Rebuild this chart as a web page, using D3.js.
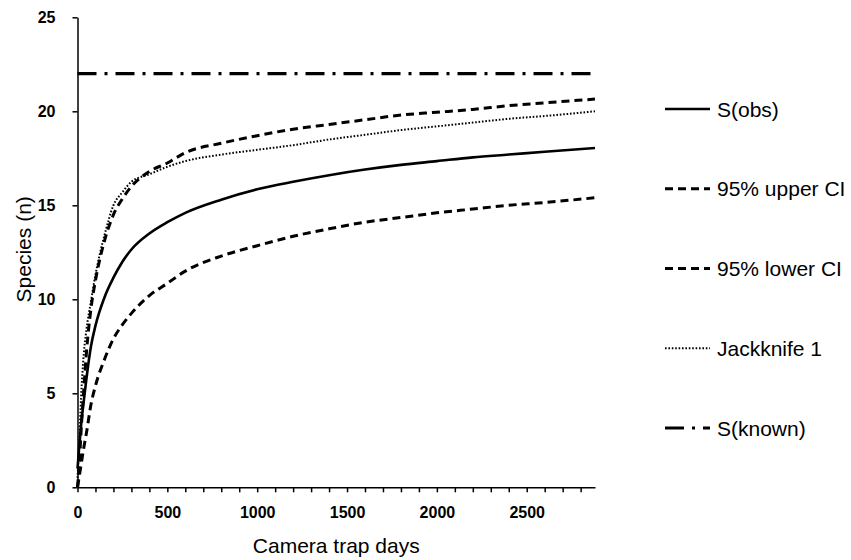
<!DOCTYPE html>
<html>
<head>
<meta charset="utf-8">
<script src="https://cdn.jsdelivr.net/npm/d3@7"></script>
<style>
  html, body { margin: 0; padding: 0; background: #fff; }
  svg { display: block; }
  text { font-family: "Liberation Sans", Arial, sans-serif; fill: #000; }
</style>
</head>
<body>
<div id="chart"></div>
<script>
// ---- data ----
const days = [0, 10, 20, 35, 50, 75, 100, 150, 200, 250, 300, 400, 500, 600, 800, 1000, 1200, 1400, 1600, 1800, 2000, 2200, 2400, 2600, 2880];
const sObs = [1.0, 2.2, 3.3, 4.6, 5.8, 7.5, 8.6, 10.1, 11.15, 12.0, 12.65, 13.5, 14.1, 14.6, 15.3, 15.85, 16.25, 16.6, 16.9, 17.15, 17.35, 17.55, 17.7, 17.85, 18.05];
const upperCI = [0, 1.2, 3.0, 5.2, 7.2, 9.5, 11.0, 13.1, 14.5, 15.35, 16.0, 16.8, 17.25, 17.8, 18.3, 18.7, 19.05, 19.3, 19.55, 19.8, 19.95, 20.1, 20.3, 20.45, 20.65];
const lowerCI = [0, 0.6, 1.2, 2.1, 2.9, 4.4, 5.4, 6.8, 7.9, 8.65, 9.25, 10.2, 10.85, 11.5, 12.3, 12.85, 13.35, 13.75, 14.1, 14.35, 14.6, 14.8, 15.0, 15.15, 15.4];
const jackknife1 = [0.5, 2.4, 4.8, 7.1, 8.4, 9.9, 11.3, 13.4, 15.0, 15.7, 16.25, 16.65, 17.05, 17.35, 17.7, 17.95, 18.2, 18.5, 18.75, 19.0, 19.2, 19.4, 19.6, 19.75, 20.0];
const sKnown = 22;
const seriesNames = ["S(obs)", "95% upper CI", "95% lower CI", "Jackknife 1", "S(known)"];
const xTicks = d3.range(0, 2801, 100);
const xLabelTicks = [0, 500, 1000, 1500, 2000, 2500];
const yTicks = [0, 5, 10, 15, 20, 25];
const xDomainMax = 2880;

// ---- layout ----
const W = 851, H = 560;
const mLeft = 77.5, mRight = 595, mTop = 17.3, mBottom = 487.3;

const svg = d3.select("#chart").append("svg").attr("width", W).attr("height", H);

const x = d3.scaleLinear().domain([0, xDomainMax]).range([mLeft, mRight]);
const y = d3.scaleLinear().domain([0, 25]).range([mBottom, mTop]);

const styles = [
  { dash: null, width: 2.6 },
  { dash: "8,5", width: 3 },
  { dash: "8,5", width: 3 },
  { dash: "1.6,1.8", width: 2 },
  { dash: "19,8,3,8", width: 3.2 }
];

const line = d3.line().x(d => x(d[0])).y(d => y(d[1])).curve(d3.curveMonotoneX);
const series = [sObs, upperCI, lowerCI, jackknife1];

const plot = svg.append("g");
series.forEach((vals, i) => {
  plot.append("path")
    .datum(days.map((d, j) => [d, vals[j]]))
    .attr("d", line)
    .attr("fill", "none")
    .attr("stroke", "#000")
    .attr("stroke-width", styles[i].width)
    .attr("stroke-dasharray", styles[i].dash)
    .attr("stroke-linejoin", "round");
});
plot.append("line")
  .attr("x1", x(0)).attr("x2", x(xDomainMax))
  .attr("y1", y(sKnown)).attr("y2", y(sKnown))
  .attr("stroke", "#000").attr("stroke-width", styles[4].width)
  .attr("stroke-dasharray", styles[4].dash);

// ---- axes ----
const xAxis = d3.axisBottom(x).tickValues(xTicks).tickSize(5).tickSizeOuter(0).tickPadding(14)
  .tickFormat(d => xLabelTicks.includes(d) ? d : "");
const gx = svg.append("g").attr("transform", `translate(0,${mBottom})`).call(xAxis);
const yAxis = d3.axisLeft(y).tickValues(yTicks).tickSize(5).tickSizeOuter(0).tickPadding(17);
const gy = svg.append("g").attr("transform", `translate(${mLeft},0)`).call(yAxis);
[gx, gy].forEach(g => {
  g.selectAll("path, line").attr("stroke", "#000").attr("stroke-width", 1.5);
  g.selectAll("text").attr("font-size", 16).attr("font-weight", "bold")
    .attr("font-family", "'Liberation Sans', Arial, sans-serif").attr("fill", "#000");
});

svg.append("text")
  .attr("x", (mLeft + mRight) / 2).attr("y", 553)
  .attr("text-anchor", "middle").attr("font-size", 21)
  .text("Camera trap days");
svg.append("text")
  .attr("transform", `translate(31,${(mTop + mBottom) / 2 - 3}) rotate(-90)`)
  .attr("text-anchor", "middle").attr("font-size", 21)
  .text("Species (n)");

// ---- legend ----
const legY = d3.scalePoint().domain(seriesNames).range([109, 428]);
const leg = svg.append("g");
seriesNames.forEach((name, i) => {
  const yy = legY(name);
  leg.append("line")
    .attr("x1", 665).attr("x2", 710).attr("y1", yy).attr("y2", yy)
    .attr("stroke", "#000").attr("stroke-width", styles[i].width)
    .attr("stroke-dasharray", styles[i].dash);
  leg.append("text")
    .attr("x", 717).attr("y", yy).attr("dy", "0.36em")
    .attr("font-size", 21).text(name);
});
</script>
</body>
</html>
